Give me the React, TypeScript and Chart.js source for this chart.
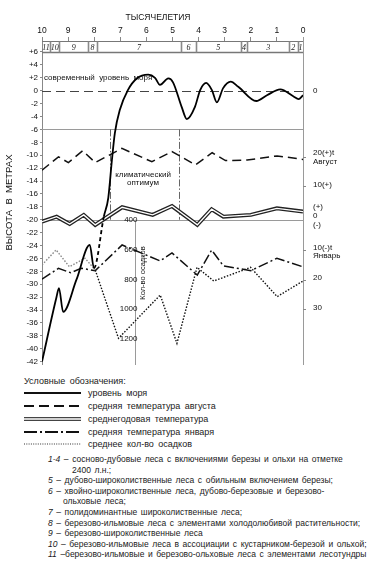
import React, { useEffect, useRef } from "react";
import { Chart, registerables } from "chart.js";

Chart.register(...registerables);

const FONT = '"Liberation Sans", Arial, Helvetica, sans-serif';
const SERIF = '"Liberation Serif", "Times New Roman", serif';

// ---------- data ----------
const timeTicks = [10, 9, 8, 7, 6, 5, 4, 3, 2, 1, 0];
const heightTicks = [6, 4, 2, 0, -2, -4, -6, -8, -10, -12, -14, -16, -18, -20, -22, -24, -26, -28, -30, -32, -34, -36, -38, -40, -42];
const precipTicks = [400, 600, 800, 1000, 1200];
const augustTicks = [20, 10];
const januaryTicks = [-10, -20, -30];

const zoneBounds = [10, 9.69, 9.34, 8.23, 7.9, 4.67, 4.11, 2.39, 2.13, 0.54, 0.2, 0];
const zoneLabels = ["11", "10", "9", "8", "7", "6", "5", "4", "3", "2", "1"];
const optimumBounds = [7.39, 4.74];
const precipAxisAt = 6.42;

const seaTime = [10, 9.45, 9.35, 9.19, 8.68, 8.17, 8.01, 7.63, 7.46, 7.32, 7.21, 7.02, 6.71, 6.37, 5.93, 5.67, 5.48, 5.16, 4.98, 4.65, 4.45, 4.14, 3.94, 3.71, 3.49, 3.3, 3.06, 2.77, 2.48, 1.79, 1.38, 0.87, 0.36, 0.17, 0];
const seaLevel = [-42, -32.1, -30.6, -34.3, -29.3, -23.9, -27.5, -19.5, -16.6, -10.7, -6.6, -3.0, 0.1, 1.9, 2.5, 2.0, 0.9, 1.9, 1.3, -2.5, -4.4, -2.5, 0.1, 1.2, 0.1, -1.8, 0.4, 1.4, 0.6, -1.6, -0.7, 0.2, -0.9, -1.3, -0.7];

const augTime = [10, 9.37, 8.99, 8.44, 7.96, 6.94, 5.79, 5.02, 4.12, 3.48, 2.97, 2.14, 0.99, 0];
const augustTemp = [15.3, 19.9, 17.9, 22.0, 17.9, 22.8, 18.2, 21.7, 17.1, 21.3, 18.6, 18.8, 20.2, 19.0];

const annTime = [10, 9.44, 8.94, 8.4, 7.96, 6.93, 5.76, 5.02, 4.05, 3.5, 3.05, 2.0, 1.0, 0];
const annualTemp = [-0.9, 0.8, -1.7, 1.4, -2.0, 4.0, 1.4, 4.4, -2.0, 3.3, 0.8, 1.4, 3.6, 2.5];

const janTime = [10, 9.37, 8.9, 8.5, 7.96, 6.93, 5.47, 5.02, 4.05, 3.5, 3.05, 2.0, 1.0, 0];
const januaryTemp = [-19.9, -16.2, -17.7, -16.2, -17.0, -8.3, -13.7, -11.0, -18.5, -10.0, -15.4, -17.0, -12.8, -15.7];

const precTime = [10, 9.46, 8.95, 8.35, 7.96, 7.07, 5.47, 4.83, 4.06, 3.42, 2.01, 0.99, 0];
const precipitation = [709, 608, 721, 664, 743, 1202, 911, 1236, 725, 817, 725, 922, 817];

const legendItems = [
  { label: "уровень моря", kind: "solid" },
  { label: "средняя температура августа", kind: "dash" },
  { label: "среднегодовая температура", kind: "double" },
  { label: "средняя температура января", kind: "dashdot" },
  { label: "среднее кол-во осадков", kind: "dot" },
];

const zoneNotes = [
  { n: "1-4", text: " – сосново-дубовые леса с включениями березы и ольхи на отметке", cont: "2400 л.н.;" },
  { n: "5", text: " – дубово-широколиственные леса с обильным включением березы;" },
  { n: "6", text: " – хвойно-широколиственные леса, дубово-березовые и березово-", cont: "ольховые леса;" },
  { n: "7", text: " – полидоминантные широколиственные леса;" },
  { n: "8", text: " – березово-ильмовые леса с элементами холодолюбивой растительности;" },
  { n: "9", text: " – березово-широколиственные леса" },
  { n: "10", text: " – березово-ильмовые леса в ассоциации с кустарником-березой и ольхой;" },
  { n: "11", text: " –березово-ильмовые и березово-ольховые леса с элементами лесотундры" },
];

const pts = (xs: number[], ys: number[]) => xs.map((x, i) => ({ x, y: ys[i] }));

const decorPlugin = {
  id: "decor",
  beforeDatasetsDraw(chart: any) {
    const { ctx, chartArea: ca } = chart;
    const X = (t: number) => chart.scales.x.getPixelForValue(t);
    const Y = (v: number) => chart.scales.y.getPixelForValue(v);
    const YA = (v: number) => chart.scales.yAug.getPixelForValue(v);
    const YN = (v: number) => chart.scales.yAnn.getPixelForValue(v);
    const YJ = (v: number) => chart.scales.yJan.getPixelForValue(v);
    const YP = (v: number) => chart.scales.yPrec.getPixelForValue(v);
    const r = (p: number) => Math.round(p) + 0.5;
    const seg = (x1: number, y1: number, x2: number, y2: number) => {
      ctx.beginPath();
      ctx.moveTo(x1, y1);
      ctx.lineTo(x2, y2);
      ctx.stroke();
    };
    ctx.save();
    ctx.lineWidth = 1;
    // modern sea level
    ctx.strokeStyle = "#444";
    ctx.setLineDash([9, 5]);
    seg(ca.left, r(Y(0)), ca.right, r(Y(0)));
    // separators
    ctx.setLineDash([]);
    ctx.strokeStyle = "#9a9a9a";
    [-6, -20].forEach((v) => seg(ca.left, r(Y(v)), ca.right, r(Y(v))));
    // climatic optimum
    ctx.strokeStyle = "#666";
    ctx.setLineDash([7, 2, 1.5, 2]);
    optimumBounds.forEach((t) => seg(r(X(t)), Y(-6), r(X(t)), Y(-20)));
    // precipitation axis
    ctx.setLineDash([]);
    ctx.strokeStyle = "#9a9a9a";
    const px = r(X(precipAxisAt));
    seg(px, Y(-20), px, ca.bottom + 1);
    // right axis
    seg(r(ca.right), ca.top - 4, r(ca.right), ca.bottom + 1);
    // right small ticks
    ctx.strokeStyle = "#888";
    [...augustTicks.map(YA), ...januaryTicks.map(YJ)].forEach((p) => seg(ca.right, r(p), ca.right + 3, r(p)));
    // zone box
    const top = r(ca.top);
    const bot = r(Y(6));
    ctx.strokeStyle = "#777";
    ctx.lineWidth = 1;
    seg(ca.left, top, ca.right, top);
    ctx.lineWidth = 1.5;
    seg(ca.left, bot, ca.right, bot);
    ctx.lineWidth = 1.6;
    ctx.strokeStyle = "#8a8a8a";
    zoneBounds.slice(1, -1).forEach((t) => seg(r(X(t)), top, r(X(t)), bot));
    ctx.fillStyle = "#222";
    ctx.font = `italic 8px ${SERIF}`;
    ctx.textAlign = "center";
    ctx.textBaseline = "middle";
    zoneLabels.forEach((lab, i) => {
      ctx.fillText(lab, (X(zoneBounds[i]) + X(zoneBounds[i + 1])) / 2, (top + bot) / 2 + 0.5);
    });

    // texts
    ctx.fillStyle = "#111";
    ctx.font = `8.5px ${FONT}`;
    ctx.fillText("ТЫСЯЧЕЛЕТИЯ", 158, 18);
    ctx.font = `8px ${FONT}`;
    ctx.fillText("современный  уровень  моря", X(7.85), Y(2));
    ctx.fillText("климатический", X(6.13), Y(-13));
    ctx.fillText("оптимум", X(6.13), Y(-14.25));

    // precipitation labels
    ctx.textAlign = "right";
    precipTicks.forEach((v) => ctx.fillText(String(v), px + 2, YP(v) + 1));
    ctx.save();
    ctx.translate(px + 7, 273);
    ctx.rotate(-Math.PI / 2);
    ctx.textAlign = "center";
    ctx.font = `7.5px ${FONT}`;
    ctx.fillText("Кол-во осадков", 0, 0);
    ctx.restore();

    // right labels
    ctx.textAlign = "left";
    const rx = ca.right + 10;
    ctx.fillText("0", rx, Y(0));
    ctx.fillText(augustTicks[0] + "(+)t", rx, YA(augustTicks[0]) - 4);
    ctx.fillText("Август", rx, YA(augustTicks[0]) + 5);
    ctx.fillText(augustTicks[1] + "(+)", rx, YA(augustTicks[1]) - 1);
    ctx.fillText("(+)", rx, YN(0) - 12);
    ctx.fillText("0", rx, YN(0) - 3);
    ctx.fillText("(-)", rx, YN(0) + 6);
    ctx.fillText(Math.abs(januaryTicks[0]) + "(-)t", rx, YJ(januaryTicks[0]) - 2);
    ctx.fillText("Январь", rx, YJ(januaryTicks[0]) + 6);
    ctx.fillText(String(Math.abs(januaryTicks[1])), rx, YJ(januaryTicks[1]) - 2);
    ctx.fillText(String(Math.abs(januaryTicks[2])), rx, YJ(januaryTicks[2]) - 1);
    ctx.restore();
  },
};

function buildConfig(): any {
  return {
    type: "line",
    data: {
      datasets: [
        {
          label: "уровень моря",
          data: pts(seaTime, seaLevel),
          yAxisID: "y",
          borderColor: "#000",
          borderWidth: 1.8,
          pointRadius: 0,
          cubicInterpolationMode: "monotone",
          order: 0,
          segment: {
            borderDash: (c: any) => (c.p0.parsed.x <= 8.02 && c.p1.parsed.x >= 7.6 ? [4, 3] : undefined),
          },
        },
        {
          label: "средняя температура августа",
          data: pts(augTime, augustTemp),
          yAxisID: "yAug",
          borderColor: "#111",
          borderWidth: 1.5,
          borderDash: [9, 5],
          pointRadius: 0,
          tension: 0,
          order: 3,
        },
        {
          label: "среднегодовая температура",
          data: pts(annTime, annualTemp),
          yAxisID: "yAnn",
          borderColor: "#222",
          borderWidth: 4,
          pointRadius: 0,
          tension: 0,
          order: 6,
        },
        {
          label: "среднегодовая температура (inner)",
          data: pts(annTime, annualTemp),
          yAxisID: "yAnn",
          borderColor: "#fff",
          borderWidth: 1.4,
          pointRadius: 0,
          tension: 0,
          order: 5,
        },
        {
          label: "средняя температура января",
          data: pts(janTime, januaryTemp),
          yAxisID: "yJan",
          borderColor: "#111",
          borderWidth: 1.5,
          borderDash: [10, 3, 2, 3],
          pointRadius: 0,
          tension: 0,
          order: 3,
        },
        {
          label: "среднее кол-во осадков",
          data: pts(precTime, precipitation),
          yAxisID: "yPrec",
          borderColor: "#111",
          borderWidth: 1.4,
          borderDash: [1.5, 1.6],
          pointRadius: 0,
          tension: 0,
          order: 2,
          segment: {
            borderColor: (c: any) => (c.p1.parsed.x > 7.9 ? "#888" : "#111"),
          },
        },
      ],
    },
    options: {
      responsive: false,
      devicePixelRatio: 1,
      animation: false,
      events: [],
      layout: { padding: { left: 4, top: 8, right: 87, bottom: 8 } },
      plugins: { legend: { display: false }, tooltip: { enabled: false } },
      scales: {
        x: {
          type: "linear",
          position: "top",
          reverse: true,
          min: 0,
          max: 10,
          afterBuildTicks: (s: any) => {
            s.ticks = timeTicks.map((v) => ({ value: v }));
          },
          afterFit: (s: any) => {
            s.height = 33;
            s.paddingLeft = 0;
            s.paddingRight = 0;
          },
          ticks: {
            font: { family: FONT, size: 8.5 },
            color: "#111",
            padding: 1,
            maxRotation: 0,
            autoSkip: false,
            callback: (v: any) => String(v),
          },
          grid: { display: true, drawOnChartArea: false, drawTicks: true, tickLength: 4, color: "#888" },
          border: { display: false },
        },
        y: {
          type: "linear",
          position: "left",
          min: -42.37,
          max: 7.705,
          afterBuildTicks: (s: any) => {
            s.ticks = heightTicks.map((v) => ({ value: v }));
          },
          afterFit: (s: any) => {
            s.width = 38;
            s.paddingTop = 0;
            s.paddingBottom = 0;
          },
          ticks: {
            font: { family: FONT, size: 8 },
            color: "#111",
            padding: 2,
            autoSkip: false,
            callback: (v: any) => (v > 0 ? "+" + v : String(v)),
          },
          grid: { display: true, drawOnChartArea: false, drawTicks: true, tickLength: 2, color: "#888" },
          border: { display: true, color: "#888", width: 1 },
          title: {
            display: true,
            text: "ВЫСОТА  В  МЕТРАХ",
            font: { family: FONT, size: 9.5 },
            color: "#111",
            padding: 0,
          },
        },
        yAug: { type: "linear", display: false, min: -51.55, max: 59.83 },
        yAnn: { type: "linear", display: false, min: -49.15, max: 60.34 },
        yJan: { type: "linear", display: false, min: -48.64, max: 60.85 },
        yPrec: { type: "linear", display: false, reverse: true, min: -796.6, max: 1374.8 },
      },
    },
    plugins: [decorPlugin],
  };
}

function Sample({ kind }: { kind: string }) {
  const w = 57;
  const common = { x1: 0, y1: 4, x2: w, y2: 4 };
  return (
    <svg width={w} height={8} style={{ position: "absolute", left: -64, top: 2 }}>
      {kind === "solid" && <line {...common} stroke="#111" strokeWidth={1.8} />}
      {kind === "dash" && <line {...common} stroke="#111" strokeWidth={1.8} strokeDasharray="10 5" />}
      {kind === "double" && (
        <>
          <line {...common} stroke="#444" strokeWidth={4} />
          <line {...common} stroke="#fff" strokeWidth={1.3} />
        </>
      )}
      {kind === "dashdot" && <line {...common} stroke="#111" strokeWidth={1.8} strokeDasharray="13 3 2 3" />}
      {kind === "dot" && <line {...common} stroke="#333" strokeWidth={1.2} strokeDasharray="1 1.3" />}
    </svg>
  );
}

export default function App() {
  const ref = useRef<HTMLCanvasElement>(null);
  useEffect(() => {
    if (!ref.current) return;
    const chart = new Chart(ref.current, buildConfig());
    return () => chart.destroy();
  }, []);

  const textStyle: React.CSSProperties = {
    position: "absolute",
    fontFamily: FONT,
    fontSize: 8.5,
    lineHeight: "12px",
    height: 12,
    whiteSpace: "nowrap",
    color: "#1a1a1a",
    wordSpacing: 1.2,
  };
  const legendStyle: React.CSSProperties = { ...textStyle, fontSize: 9, wordSpacing: 2 };
  const legendRows = [393, 406, 419, 432, 444];

  const noteEls: React.ReactNode[] = [];
  let yy = 459;
  zoneNotes.forEach((z, i) => {
    noteEls.push(
      <div key={"n" + i} style={{ ...textStyle, left: 48, top: yy - 6 }}>
        <i>{z.n}</i>
        {z.text}
      </div>
    );
    yy += 10.6;
    if (z.cont) {
      noteEls.push(
        <div key={"c" + i} style={{ ...textStyle, left: i === 0 ? 72 : 63, top: yy - 6 }}>
          {z.cont}
        </div>
      );
      yy += 10.6;
    }
  });

  return (
    <div style={{ position: "fixed", left: 0, top: 0, width: 390, height: 564, background: "#fff", overflow: "hidden" }}>
      <canvas ref={ref} width={390} height={372} style={{ position: "absolute", left: 0, top: 0, width: 390, height: 372 }} />
      <div style={{ ...legendStyle, left: 24, top: 381 - 6 }}>Условные обозначения:</div>
      {legendItems.map((it, i) => (
        <div key={it.label} style={{ ...legendStyle, left: 88, top: legendRows[i] - 6 }}>
          <Sample kind={it.kind} />
          {it.label}
        </div>
      ))}
      {noteEls}
    </div>
  );
}
